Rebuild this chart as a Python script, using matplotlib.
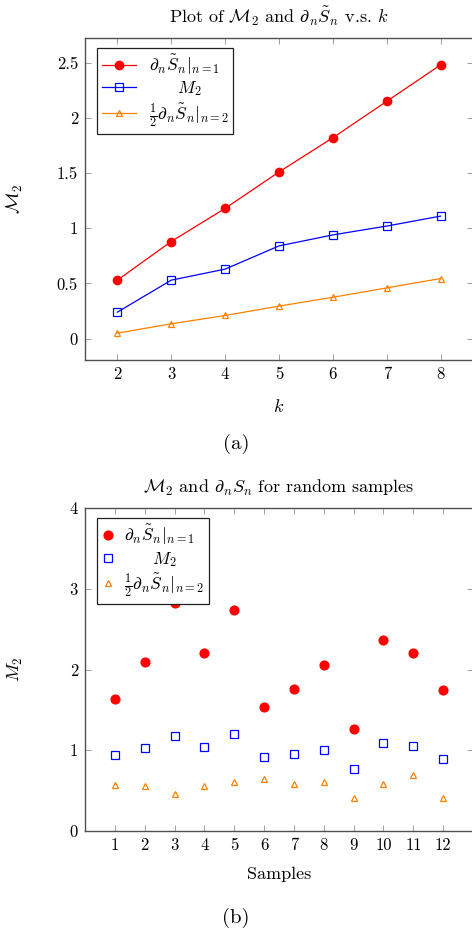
import matplotlib
matplotlib.use("Agg")
import matplotlib.pyplot as plt
from matplotlib.ticker import FixedLocator, FixedFormatter

plt.rcParams['font.family'] = ['cmr10', 'DejaVu Serif']
plt.rcParams['mathtext.fontset'] = 'cm'
plt.rcParams['axes.formatter.use_mathtext'] = True

# ---- data (a) ----
k_vals = [2, 3, 4, 5, 6, 7, 8]
dS1_a = [0.53, 0.88, 1.18, 1.51, 1.82, 2.15, 2.48]
M2_a = [0.24, 0.53, 0.63, 0.84, 0.94, 1.02, 1.11]
half_dS2_a = [0.05, 0.135, 0.21, 0.295, 0.375, 0.46, 0.545]
yticks_a = [0, 0.5, 1, 1.5, 2, 2.5]
yticklabels_a = ["0", "0.5", "1", "1.5", "2", "2.5"]

# ---- data (b) ----
samples = [1, 2, 3, 4, 5, 6, 7, 8, 9, 10, 11, 12]
dS1_b = [1.63, 2.09, 2.82, 2.21, 2.74, 1.53, 1.76, 2.06, 1.26, 2.37, 2.21, 1.74]
M2_b = [0.935, 1.02, 1.17, 1.04, 1.20, 0.915, 0.95, 1.00, 0.76, 1.09, 1.05, 0.885]
half_dS2_b = [0.565, 0.555, 0.46, 0.555, 0.60, 0.645, 0.585, 0.60, 0.41, 0.575, 0.69, 0.40]
yticks_b = [0, 1, 2, 3, 4]
yticklabels_b = ["0", "1", "2", "3", "4"]

labels = [r"$\partial_n\tilde{S}_n|_{n=1}$",
          r"     $M_2$",
          r"$\frac{1}{2}\partial_n\tilde{S}_n|_{n=2}$"]

RED = "#ff0000"
BLUE = "#0000ff"
ORANGE = "#ff8000"
SPINE = "#505050"
TICK = "#a0a0a0"

fig = plt.figure(figsize=(4.72, 9.32), dpi=100)
W, H = 472.0, 932.0

def make_axes(left, top, right, bottom):
    return fig.add_axes([left / W, 1 - bottom / H, (right - left) / W, (bottom - top) / H])

def style(ax):
    for s in ax.spines.values():
        s.set_color(SPINE)
        s.set_linewidth(1.0)
    ax.tick_params(direction='in', top=True, right=True, length=4.3, width=0.7,
                   color=TICK, labelsize=12, labelcolor='black', pad=5)

# ---------- (a) ----------
ax1 = make_axes(85, 38, 473, 360)
ax1.plot(k_vals, dS1_a, color=RED, lw=0.9, marker='o', ms=6, mfc=RED, mec=RED, label=labels[0])
ax1.plot(k_vals, M2_a, color=BLUE, lw=0.9, marker='s', ms=6, mfc='none', mec=BLUE, mew=0.9, label=labels[1])
ax1.plot(k_vals, half_dS2_a, color=ORANGE, lw=0.9, marker='^', ms=5, mfc='none', mec=ORANGE, mew=0.9, label=labels[2])
ax1.set_xlim(1.4, 8.6)
ax1.set_ylim(-0.193, 2.723)
ax1.xaxis.set_major_locator(FixedLocator(k_vals))
ax1.xaxis.set_major_formatter(FixedFormatter([str(v) for v in k_vals]))
ax1.yaxis.set_major_locator(FixedLocator(yticks_a))
ax1.yaxis.set_major_formatter(FixedFormatter(yticklabels_a))
style(ax1)
ax1.set_title(r"Plot of $\mathcal{M}_2$ and $\partial_n\tilde{S}_n$ v.s. $k$", fontsize=13, pad=11)
ax1.set_xlabel(r"$k$", fontsize=13)
ax1.xaxis.set_label_coords(0.5, -0.118)
ax1.set_ylabel(r"$\mathcal{M}_2$", fontsize=13)
ax1.yaxis.set_label_coords(-0.155, 0.5)
leg1 = ax1.legend(loc='upper left', bbox_to_anchor=(0.031, 0.969), fontsize=12.5,
                  frameon=True, fancybox=False, edgecolor='#202020', framealpha=1,
                  handlelength=1.95, handletextpad=0.75, borderpad=0.28, labelspacing=0.15,
                  borderaxespad=0)
leg1.get_frame().set_linewidth(0.9)

fig.text(236 / W, 1 - 444 / H, "(a)", ha='center', va='center', fontsize=15)

# ---------- (b) ----------
ax2 = make_axes(85, 508.3, 473, 830.7)
ax2.plot(samples, dS1_b, ls='none', marker='o', ms=6.3, mfc=RED, mec=RED, label=labels[0])
ax2.plot(samples, M2_b, ls='none', marker='s', ms=6.3, mfc='none', mec=BLUE, mew=0.9, label=labels[1])
ax2.plot(samples, half_dS2_b, ls='none', marker='^', ms=5, mfc='none', mec=ORANGE, mew=0.9, label=labels[2])
ax2.set_xlim(0, 13)
ax2.set_ylim(0, 4)
ax2.xaxis.set_major_locator(FixedLocator(samples))
ax2.xaxis.set_major_formatter(FixedFormatter([str(v) for v in samples]))
ax2.yaxis.set_major_locator(FixedLocator(yticks_b))
ax2.yaxis.set_major_formatter(FixedFormatter(yticklabels_b))
style(ax2)
ax2.set_title(r"$\mathcal{M}_2$ and $\partial_n S_n$ for random samples", fontsize=13, pad=11)
ax2.set_xlabel("Samples", fontsize=13)
ax2.xaxis.set_label_coords(0.5, -0.113)
ax2.set_ylabel(r"$M_2$", fontsize=13)
ax2.yaxis.set_label_coords(-0.155, 0.5)
leg2 = ax2.legend(loc='upper left', bbox_to_anchor=(0.031, 0.969), fontsize=12.5,
                  frameon=True, fancybox=False, edgecolor='#202020', framealpha=1,
                  handlelength=0.7, handletextpad=0.6, borderpad=0.28, labelspacing=0.15,
                  borderaxespad=0)
leg2.get_frame().set_linewidth(0.9)

fig.text(236 / W, 1 - 918 / H, "(b)", ha='center', va='center', fontsize=15)

fig.savefig("out.png", dpi=100)
